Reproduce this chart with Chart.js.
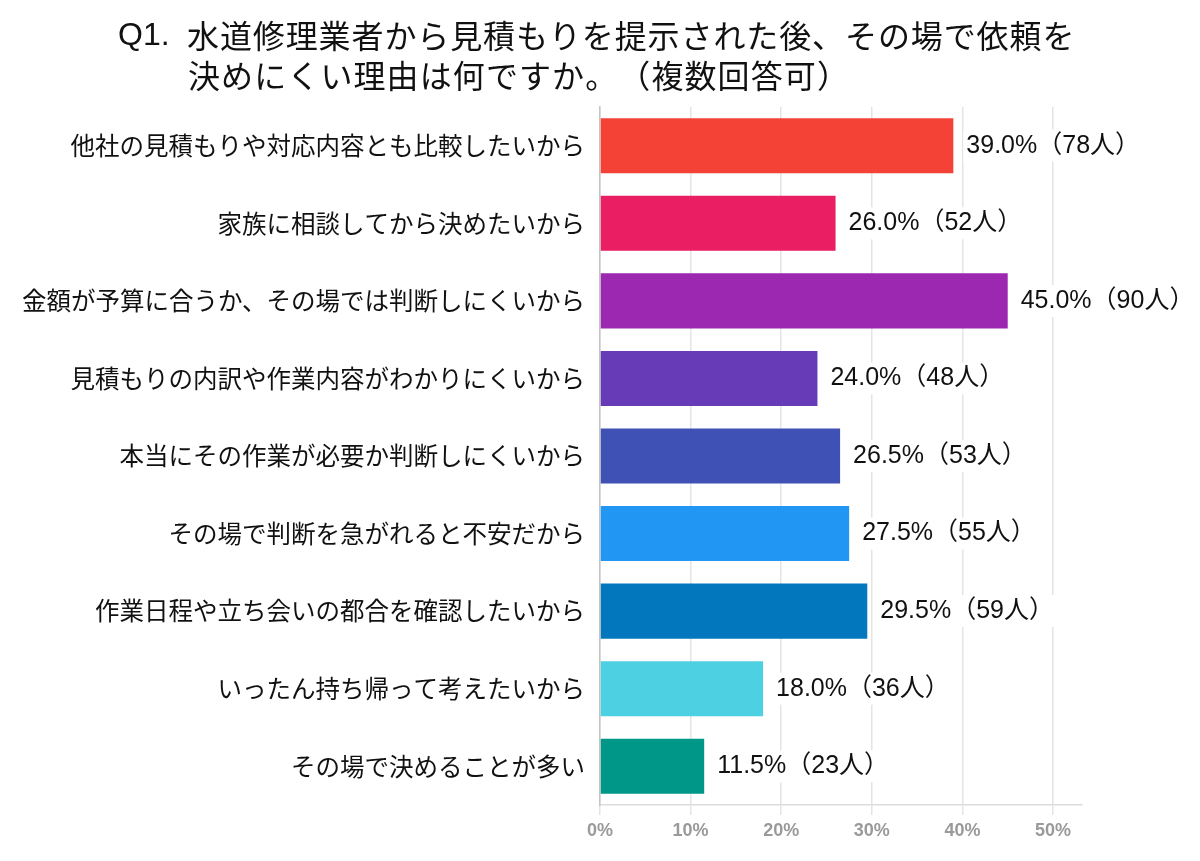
<!DOCTYPE html>
<html lang="ja">
<head>
<meta charset="utf-8">
<title>Q1</title>
<script src="https://cdn.jsdelivr.net/npm/chart.js@4"></script>
<style>
  body { margin: 0; background: #fff; }
  #wrap { width: 1200px; height: 861px; }
</style>
</head>
<body>
<div id="wrap"><canvas id="chart" width="1200" height="861"></canvas></div>
<script>
const titlePrefix = 'Q1.';
const titleLines = ['水道修理業者から見積もりを提示された後、その場で依頼を', '決めにくい理由は何ですか。（複数回答可）'];

const categories = [
  '他社の見積もりや対応内容とも比較したいから',
  '家族に相談してから決めたいから',
  '金額が予算に合うか、その場では判断しにくいから',
  '見積もりの内訳や作業内容がわかりにくいから',
  '本当にその作業が必要か判断しにくいから',
  'その場で判断を急がれると不安だから',
  '作業日程や立ち会いの都合を確認したいから',
  'いったん持ち帰って考えたいから',
  'その場で決めることが多い'
];
const percents = [39.0, 26.0, 45.0, 24.0, 26.5, 27.5, 29.5, 18.0, 11.5];
const counts = [78, 52, 90, 48, 53, 55, 59, 36, 23];
const barColors = ['#F44336', '#E91E63', '#9C27B0', '#673AB7', '#3F51B5', '#2196F3', '#0277BD', '#4DD0E1', '#009688'];
const xTicks = [0, 10, 20, 30, 40, 50];

const jpFont = '"Noto Sans CJK JP", "Noto Sans", sans-serif';
const mixFont = '"Liberation Sans", "Noto Sans CJK JP", sans-serif';

// draw a line one glyph at a time so the full-width punctuation keeps its width
function drawMono(ctx, text, x, y, step) {
  Array.from(text).forEach((ch, i) => ctx.fillText(ch, x + i * step, y));
}

const titlePlugin = {
  id: 'qTitle',
  afterDraw(chart) {
    const ctx = chart.ctx;
    ctx.save();
    ctx.fillStyle = '#111';
    ctx.textBaseline = 'middle';
    ctx.textAlign = 'left';
    ctx.font = '32px "Liberation Sans", sans-serif';
    ctx.fillText(titlePrefix, 118, 36);
    ctx.font = '32px ' + jpFont;
    drawMono(ctx, titleLines[0], 187, 36, 32.9);
    drawMono(ctx, titleLines[1], 188, 76, 33.1);
    ctx.restore();
  }
};

// value labels right of each bar, on a white patch like the original
const valueLabels = {
  id: 'valueLabels',
  afterDatasetsDraw(chart) {
    const ctx = chart.ctx;
    const meta = chart.getDatasetMeta(0);
    ctx.save();
    ctx.font = '25px ' + mixFont;
    ctx.textBaseline = 'middle';
    ctx.textAlign = 'left';
    meta.data.forEach((bar, i) => {
      const text = percents[i].toFixed(1) + '%（' + counts[i] + '人）';
      const x = bar.x + 13;
      const w = ctx.measureText(text).width;
      ctx.fillStyle = '#fff';
      ctx.fillRect(x - 3, bar.y - 16, w + 6, 32);
      ctx.fillStyle = '#111';
      ctx.fillText(text, x, bar.y);
    });
    ctx.restore();
  }
};

new Chart(document.getElementById('chart'), {
  type: 'bar',
  data: {
    labels: categories,
    datasets: [{
      data: percents,
      backgroundColor: barColors,
      borderWidth: 0,
      barPercentage: 0.71,
      categoryPercentage: 1
    }]
  },
  options: {
    indexAxis: 'y',
    responsive: false,
    animation: false,
    layout: { padding: { top: 107, right: 118, bottom: 0, left: 0 } },
    plugins: {
      legend: { display: false },
      tooltip: { enabled: false }
    },
    scales: {
      x: {
        min: 0,
        max: 53.2,
        afterBuildTicks: axis => {
          axis.ticks = xTicks.map(v => ({ value: v }));
        },
        afterFit: scale => { scale.height = 56; },
        grid: { color: '#e4e4e4', lineWidth: 1.5, tickLength: 10 },
        border: { color: '#dcdcdc', width: 1.5 },
        ticks: {
          color: '#9a9a9a',
          padding: 5,
          font: { family: '"Liberation Sans", Arial, sans-serif', size: 18, weight: 'bold' },
          callback: v => v + '%'
        }
      },
      y: {
        afterFit: scale => { scale.width = 600; },
        grid: { display: false, drawTicks: false },
        border: { color: '#c4c4c4', width: 1.5 },
        ticks: {
          color: '#111',
          padding: 15,
          font: { family: jpFont, size: 24.5 }
        }
      }
    }
  },
  plugins: [titlePlugin, valueLabels]
});
</script>
</body>
</html>
